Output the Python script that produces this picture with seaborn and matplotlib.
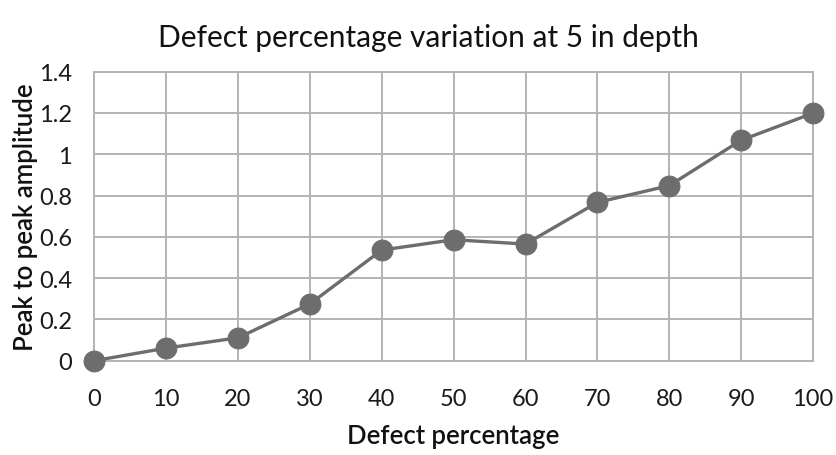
import matplotlib
matplotlib.use("Agg")
import matplotlib.pyplot as plt
import seaborn as sns
import pandas as pd

defect_pct = [0, 10, 20, 30, 40, 50, 60, 70, 80, 90, 100]
amplitude = [0.0, 0.061, 0.111, 0.275, 0.536, 0.586, 0.565, 0.767, 0.848, 1.068, 1.199]
y_ticks = [0, 0.2, 0.4, 0.6, 0.8, 1.0, 1.2, 1.4]
y_tick_labels = ["0", "0.2", "0.4", "0.6", "0.8", "1", "1.2", "1.4"]

sns.set_style("white")
plt.rcParams["font.family"] = ["Lato", "DejaVu Sans"]

df = pd.DataFrame({"Defect percentage": defect_pct, "Peak to peak amplitude": amplitude})

fig = plt.figure(figsize=(8.37, 4.56), dpi=100)
ax = fig.add_axes([0.1127, 0.2068, 0.9713 - 0.1127, 0.8406 - 0.2068])

sns.lineplot(data=df, x="Defect percentage", y="Peak to peak amplitude", ax=ax,
             color="#6d6d6d", linewidth=2.4, marker="o", markersize=15,
             markeredgecolor="#6d6d6d", clip_on=False, zorder=5)

ax.set_xlim(0, 100)
ax.set_ylim(0, 1.4)
ax.set_xticks(defect_pct)
ax.set_yticks(y_ticks)
ax.set_yticklabels(y_tick_labels)
ax.grid(True, color="#b3b3b3", linewidth=1.4)
for s in ax.spines.values():
    s.set_color("#b3b3b3")
    s.set_linewidth(1.4)
ax.tick_params(axis="both", length=0, labelsize=17, colors="#1a1a1a")
ax.tick_params(axis="x", pad=20)
ax.tick_params(axis="y", pad=16)
ax.set_xlabel("Defect percentage", fontsize=18.5, fontweight="semibold", labelpad=10, color="#111111")
ax.set_ylabel("Peak to peak amplitude", fontsize=18.5, fontweight="semibold", labelpad=1, color="#111111")
fig.text(0.512, 0.897, "Defect percentage variation at 5 in depth", fontsize=21.5,
         ha="center", va="baseline", color="#111111")

fig.savefig("out.png", dpi=100)
